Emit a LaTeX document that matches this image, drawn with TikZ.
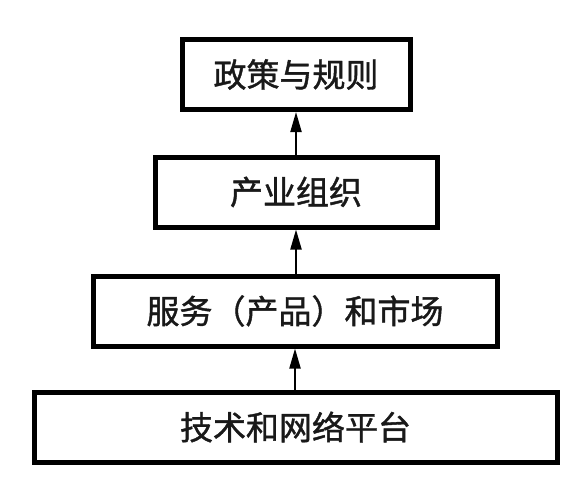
\documentclass[tikz,border=0pt]{standalone}
\usepackage{fontspec}
\newfontfamily\cjk[FakeBold=1.2]{Noto Sans CJK SC}
\usetikzlibrary{arrows.meta}
\begin{document}
\begin{tikzpicture}[x=1pt,y=-1pt,
  layerbox/.style={draw=black,line width=5pt,fill=white,inner sep=0pt,minimum height=70pt,font=\cjk\fontsize{33}{33}\selectfont,text=black!90},
  uparrow/.style={line width=2pt,-{Triangle[length=20pt,width=11pt]}}]
\fill[white] (0,0) rectangle (583,480);
\useasboundingbox (0,0) rectangle (583,480);
\node[layerbox,minimum width=228pt] (b1) at (296,74.5) {政策与规则};
\node[layerbox,minimum width=282pt] (b2) at (296,192) {产业组织};
\node[layerbox,minimum width=404pt] (b3) at (295,311) {服务（产品）和市场};
\node[layerbox,minimum width=523pt] (b4) at (295.5,427) {技术和网络平台};
\draw[uparrow] (b2.north -| b1.south) -- (b1.south);
\draw[uparrow] (b3.north -| b2.south) -- (b2.south);
\draw[uparrow] (b4.north -| b3.south) -- (b3.south);
\end{tikzpicture}
\end{document}
